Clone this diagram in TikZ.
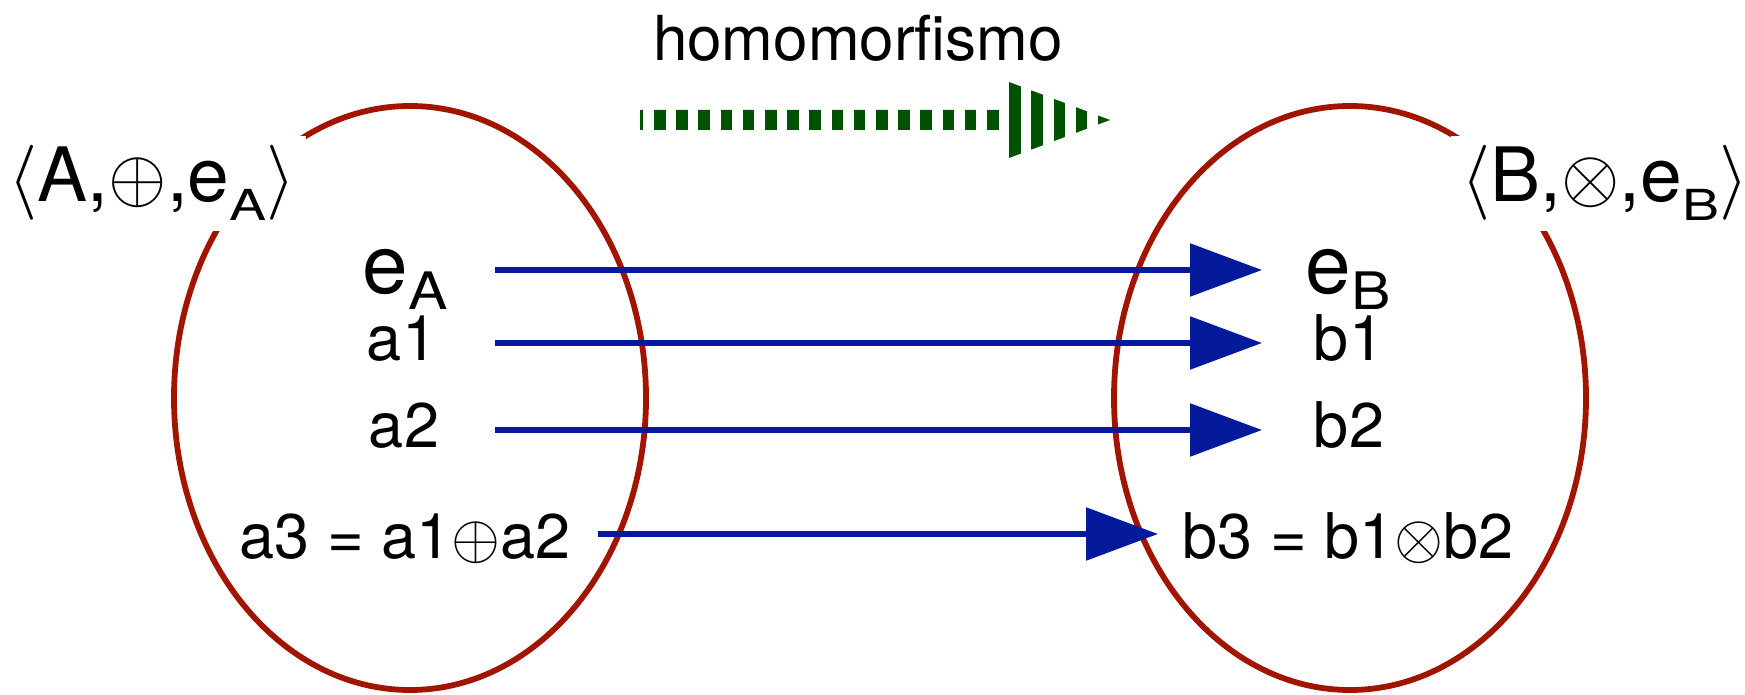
\documentclass[tikz,border=0pt]{standalone}
\usepackage{fontspec}
\usepackage{graphicx}
\setmainfont{TeX Gyre Heros}
\usetikzlibrary{arrows.meta}
\definecolor{ellred}{RGB}{160,20,0}
\definecolor{arrblue}{RGB}{5,25,155}
\definecolor{homgreen}{RGB}{0,82,0}
\newcommand{\sbsc}[1]{\raisebox{-0.24em}{\scalebox{0.74}[0.57]{#1}}}
\newcommand{\sbsd}[1]{\raisebox{-0.2em}{\scalebox{0.72}[0.63]{#1}}}
\newcommand{\msym}[2]{\scalebox{#1}{\fontsize{10}{12}\selectfont$#2$}}
\begin{document}
\begin{tikzpicture}[x=0.5pt,y=-0.5pt,
  ell/.style={draw=ellred,line width=2.9pt},
  setlabel/.style={fill=white,inner sep=5pt,anchor=base,font=\fontsize{37.5}{40}\selectfont},
  bigelem/.style={inner sep=0pt,anchor=base,font=\fontsize{41}{44}\selectfont},
  elem/.style={inner sep=0pt,anchor=base,font=\fontsize{31.5}{34}\selectfont},
  maparrow/.style={draw=arrblue,line width=2.8pt,-{Triangle[length=36pt,width=26pt]}}]
\useasboundingbox (0,0) rectangle (1745,695);
% sets
\draw[ell] (410,398) ellipse [x radius=118pt, y radius=146pt];
\draw[ell] (1350,398) ellipse [x radius=118pt, y radius=146pt];
% set labels
\node[setlabel] (LA) at (152,202) {\msym{3.75}{\langle}A,\msym{3.75}{\oplus},e\sbsc{A}\msym{3.75}{\rangle}};
\node[setlabel] (LB) at (1605,202) {\msym{3.75}{\langle}B,\msym{3.75}{\otimes},e\sbsc{B}\msym{3.75}{\rangle}};
% title
\node[inner sep=0pt,anchor=base,font=\fontsize{31}{33}\selectfont] (hom) at (858,61) {homomorfismo};
% green striped arrow
\begin{scope}
\clip (640,110) -- (1009,110) -- (1009,82) -- (1110,120) -- (1009,158) -- (1009,130) -- (640,130) -- cycle;
\draw[homgreen, line width=40pt, dash pattern=on 5.75pt off 5.35pt] (631.8,120) -- (1120,120);
\end{scope}
% elements
\node[bigelem] (eA) at (405,293) {e\sbsd{A}};
\node[elem] (a1) at (402,360) {a1};
\node[elem] (a2) at (404,447) {a2};
\node[elem] (a3) at (405,558) {a3 = a1\msym{3.15}{\oplus}a2};
\node[bigelem] (eB) at (1348,293) {e\sbsd{B}};
\node[elem] (b1) at (1349,360) {b1};
\node[elem] (b2) at (1349,447) {b2};
\node[elem] (b3) at (1348,558) {b3 = b1\msym{3.15}{\otimes}b2};
% arrow endpoints
\coordinate (s0) at (495,270); \coordinate (t0) at (1262,270);
\coordinate (s1) at (495,343); \coordinate (t1) at (1262,343);
\coordinate (s2) at (495,430); \coordinate (t2) at (1262,430);
\coordinate (s3) at (598,534); \coordinate (t3) at (1158,534);
\draw[maparrow] (s0) -- (t0);
\draw[maparrow] (s1) -- (t1);
\draw[maparrow] (s2) -- (t2);
\draw[maparrow] (s3) -- (t3);
\end{tikzpicture}
\end{document}
